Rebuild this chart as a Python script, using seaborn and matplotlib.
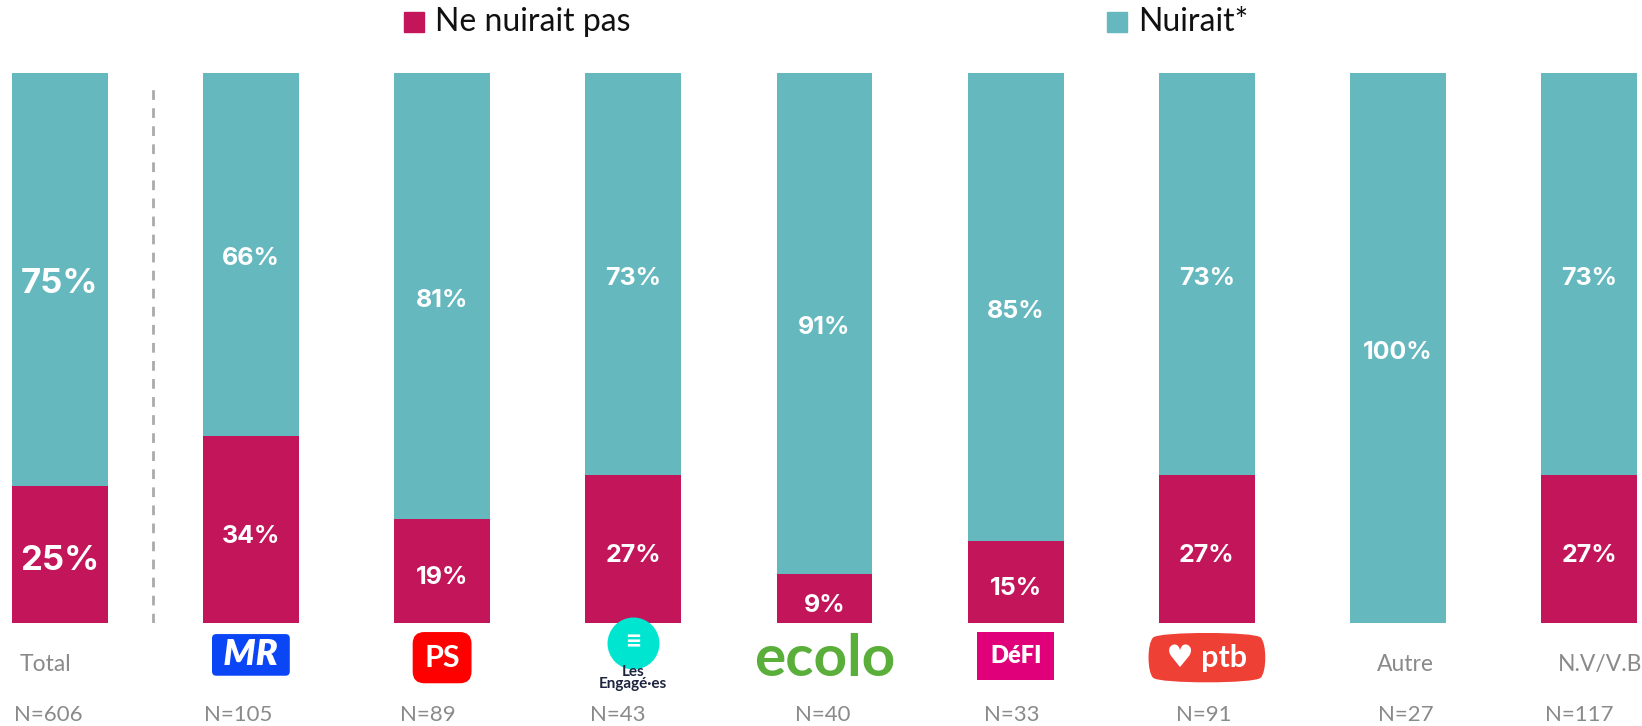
import matplotlib
matplotlib.use("Agg")
import matplotlib.pyplot as plt
import matplotlib.patches as mpatches
import seaborn as sns

# data
categories = ["Total", "MR", "PS", "Les Engagés", "Ecolo", "DéFI", "PTB", "Autre", "N.V/V.B"]
ne_nuirait_pas = [25, 34, 19, 27, 9, 15, 27, 0, 27]
nuirait = [75, 66, 81, 73, 91, 85, 73, 100, 73]
n_counts = [606, 105, 89, 43, 40, 33, 91, 27, 117]

MAGENTA = "#C3155A"
TEAL = "#66B8BF"
GREY = "#8A8A8A"

# small horizontal nudges of the N= labels (in bar units), as in the original layout
n_shift = [-0.06, -0.065, -0.075, -0.08, -0.01, -0.02, -0.015, 0.04, -0.055]

sns.set_theme(style="white")
plt.rcParams["font.family"] = ["Lato", "DejaVu Sans"]

fig = plt.figure(figsize=(16.42, 7.26), dpi=100)
ax = fig.add_axes([0, 103 / 726, 1, 550 / 726])

totals = [a + b for a, b in zip(ne_nuirait_pas, nuirait)]
sns.barplot(x=categories, y=totals, color=TEAL, width=0.502, saturation=1, linewidth=0, ax=ax)
sns.barplot(x=categories, y=ne_nuirait_pas, color=MAGENTA, width=0.502, saturation=1,
            linewidth=0, ax=ax)

ax.set_xlim(-59.7 / 191.2, (1642 - 59.7) / 191.2)
ax.set_ylim(0, 100)
ax.axis("off")

# separator between total and the parties
ax.plot([0.488, 0.488], [0, 98.2], ls=(0, (3.5, 3)), color="#AAAAAA", lw=2)

# value labels
for i, (lo, hi) in enumerate(zip(ne_nuirait_pas, nuirait)):
    size = 25 if i == 0 else 18
    if lo > 0:
        ax.text(i, lo / 2 - 1.3, f"{lo}%", ha="center", va="center", color="white",
                fontsize=size, fontweight="bold", family=["Inter", "DejaVu Sans"])
    if hi > 0:
        ax.text(i, lo + hi / 2 - 0.8, f"{hi}%", ha="center", va="center", color="white",
                fontsize=size, fontweight="bold", family=["Inter", "DejaVu Sans"])

xt = ax.get_xaxis_transform()

# category labels / party logos approximated with text
for i, dx, lab in [(0, -0.075, "Total"), (7, 0.04, "Autre"), (8, 0.055, "N.V/V.B")]:
    ax.text(i + dx, -0.076, lab, transform=xt, ha="center", va="center", color=GREY,
            fontsize=16.5)

ax.text(1, -0.058, " MR ", transform=xt, ha="center", va="center", color="white",
        fontsize=26, fontweight="heavy", fontstyle="italic",
        bbox=dict(boxstyle="round,pad=0.12", fc="#0A46F5", ec="none"))
ax.text(2, -0.063, "PS", transform=xt, ha="center", va="center", color="white",
        fontsize=22, fontweight="bold",
        bbox=dict(boxstyle="round,pad=0.38", fc="#FF0000", ec="none"))
ax.scatter([3], [-0.036], transform=xt, s=1400, color="#00E5D0", clip_on=False, zorder=3,
           linewidth=0)
ax.text(3, -0.036, "≡", transform=xt, ha="center", va="center", color="white", fontsize=20,
        fontweight="bold", zorder=4)
ax.text(3, -0.1, "Les\nEngagé·es", transform=xt, ha="center", va="center",
        color="#1E2440", fontsize=11, fontweight="bold", linespacing=0.85, zorder=5)
ax.text(4, -0.066, "ecolo", transform=xt, ha="center", va="center", color="#5AAE3A",
        fontsize=42, fontweight="bold")
ax.text(5, -0.06, "DéFI", transform=xt, ha="center", va="center", color="white",
        fontsize=17, fontweight="heavy",
        bbox=dict(boxstyle="square,pad=0.55", fc="#E0007A", ec="none"))
ax.text(6, -0.063, " ♥ ptb ", transform=xt, ha="center", va="center", color="white",
        fontsize=22, fontweight="bold",
        bbox=dict(boxstyle="round4,pad=0.4", fc="#EF4035", ec="none"))

for i, n in enumerate(n_counts):
    ax.text(i + n_shift[i], -0.167, f"N={n}", transform=xt, ha="center", va="center",
            color=GREY, fontsize=16)

# legend
for x0, color, label in [(404, MAGENTA, "Ne nuirait pas"), (1107, TEAL, "Nuirait*")]:
    fig.patches.append(mpatches.Rectangle((x0 / 1642, (726 - 32) / 726), 20 / 1642, 20 / 726,
                                          transform=fig.transFigure, color=color))
    fig.text((x0 + 31) / 1642, (726 - 22) / 726, label, ha="left", va="center",
             fontsize=23, color="#111111")

fig.savefig("out.png", dpi=100)
